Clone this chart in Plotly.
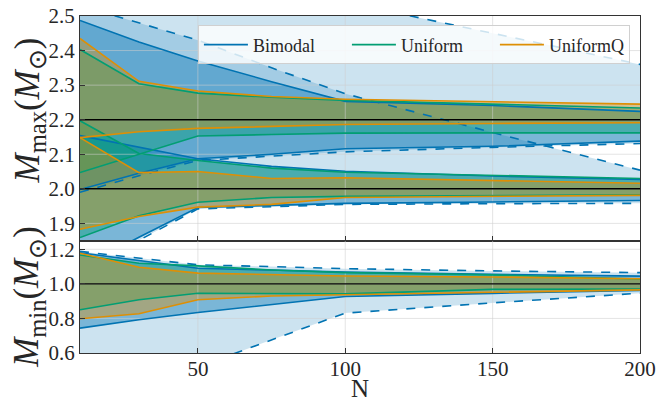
import plotly.graph_objects as go
from plotly.subplots import make_subplots

# ---------------- data ----------------
N = [10, 30, 50, 75, 100, 150, 200]

# M_max, injected 2.2
BIM_22_LO90 = [1.998, 2.045, 2.087, 2.100, 2.116, 2.123, 2.138]
BIM_22_HI90 = [2.487, 2.425, 2.370, 2.310, 2.253, 2.241, 2.224]
BIM_22_LO99 = [1.990, 2.038, 2.082, 2.095, 2.107, 2.120, 2.131]
BIM_22_HI99 = [2.900, 2.800, 2.700, 2.620, 2.540, 2.450, 2.360]
UNI_22_LO = [2.047, 2.100, 2.153, 2.157, 2.161, 2.162, 2.162]
UNI_22_HI = [2.403, 2.304, 2.277, 2.265, 2.256, 2.245, 2.234]
UNQ_22_LO = [2.148, 2.165, 2.175, 2.181, 2.186, 2.189, 2.191]
UNQ_22_HI = [2.435, 2.311, 2.283, 2.267, 2.259, 2.253, 2.245]

# M_max, injected 2.0
BIM_20_LO90 = [1.770, 1.860, 1.946, 1.952, 1.958, 1.962, 1.966]
BIM_20_HI90 = [2.154, 2.120, 2.087, 2.065, 2.051, 2.037, 2.027]
BIM_20_LO99 = [1.760, 1.852, 1.942, 1.948, 1.955, 1.957, 1.958]
BIM_20_HI99 = [2.530, 2.480, 2.430, 2.350, 2.275, 2.163, 2.054]
UNI_20_LO = [1.859, 1.922, 1.961, 1.975, 1.978, 1.981, 1.983]
UNI_20_HI = [2.197, 2.102, 2.082, 2.060, 2.048, 2.040, 2.030]
UNQ_20_LO = [1.883, 1.920, 1.947, 1.955, 1.975, 1.978, 1.981]
UNQ_20_HI = [2.148, 2.047, 2.050, 2.030, 2.032, 2.025, 2.016]

# M_min, injected 1.0
BIM_MIN_LO90 = [0.744, 0.792, 0.834, 0.880, 0.927, 0.945, 0.962]
BIM_MIN_HI90 = [1.180, 1.135, 1.090, 1.080, 1.068, 1.055, 1.045]
BIM_MIN_LO99 = [0.300, 0.400, 0.520, 0.677, 0.831, 0.890, 0.946]
BIM_MIN_HI99 = [1.188, 1.148, 1.110, 1.100, 1.088, 1.075, 1.065]
UNI_MIN_LO = [0.850, 0.908, 0.946, 0.944, 0.942, 0.968, 0.970]
UNI_MIN_HI = [1.167, 1.119, 1.104, 1.080, 1.065, 1.052, 1.028]
UNQ_MIN_LO = [0.798, 0.827, 0.908, 0.930, 0.937, 0.950, 0.965]
UNQ_MIN_HI = [1.177, 1.096, 1.062, 1.052, 1.046, 1.040, 1.030]

TRUTH_MAX = [2.2, 2.0]
TRUTH_MIN = [1.0]

MODELS = ["Bimodal", "Uniform", "UniformQ"]
X_TICKS = [50, 100, 150, 200]
YMAX_TICKS = [1.9, 2.0, 2.1, 2.2, 2.3, 2.4, 2.5]
YMIN_TICKS = [0.6, 0.8, 1.0, 1.2]
X_RANGE = [10, 200]
YMAX_RANGE = [1.85, 2.5]
YMIN_RANGE = [0.6, 1.25]

# ---------------- style ----------------
RGB = {"Bimodal": (1, 115, 178), "Uniform": (2, 158, 115), "UniformQ": (222, 143, 5)}
FONT = "Liberation Serif"
TXT = "#262626"
PAD = {"Bimodal": "\u00a0" * 6, "Uniform": "\u00a0" * 6, "UniformQ": ""}


def rgba(c, a):
    return "rgba(%d,%d,%d,%s)" % (c[0], c[1], c[2], a)


fig = make_subplots(rows=2, cols=1, row_heights=[2, 1], vertical_spacing=0,
                    shared_xaxes=True)


def add_fill(lo, hi, model, alpha, row):
    fig.add_trace(go.Scatter(x=N, y=lo, mode="lines", line=dict(width=0),
                             showlegend=False, hoverinfo="skip"), row=row, col=1)
    fig.add_trace(go.Scatter(x=N, y=hi, mode="lines", line=dict(width=0),
                             fill="tonexty", fillcolor=rgba(RGB[model], alpha),
                             showlegend=False, hoverinfo="skip"), row=row, col=1)


def add_line(y, model, row, dash="solid", legend=False):
    fig.add_trace(go.Scatter(x=N, y=y, mode="lines", name=model + PAD[model],
                             line=dict(color=rgba(RGB[model], 1), width=1.6, dash=dash),
                             showlegend=legend, legendgroup=model), row=row, col=1)


A_LIGHT, A_DARK = 0.2, 0.4

# fills (top panel)
add_fill(BIM_22_LO99, BIM_22_HI99, "Bimodal", A_LIGHT, 1)
add_fill(BIM_20_LO99, BIM_20_HI99, "Bimodal", A_LIGHT, 1)
add_fill(BIM_22_LO90, BIM_22_HI90, "Bimodal", A_DARK, 1)
add_fill(BIM_20_LO90, BIM_20_HI90, "Bimodal", A_DARK, 1)
add_fill(UNI_22_LO, UNI_22_HI, "Uniform", A_DARK, 1)
add_fill(UNI_20_LO, UNI_20_HI, "Uniform", A_DARK, 1)
add_fill(UNQ_22_LO, UNQ_22_HI, "UniformQ", A_DARK, 1)
add_fill(UNQ_20_LO, UNQ_20_HI, "UniformQ", A_DARK, 1)
# fills (bottom panel)
add_fill(BIM_MIN_LO99, BIM_MIN_HI99, "Bimodal", A_LIGHT, 2)
add_fill(BIM_MIN_LO90, BIM_MIN_HI90, "Bimodal", A_DARK, 2)
add_fill(UNI_MIN_LO, UNI_MIN_HI, "Uniform", A_DARK, 2)
add_fill(UNQ_MIN_LO, UNQ_MIN_HI, "UniformQ", A_DARK, 2)

# grid lines above fills, below lines
GRID = "rgba(205,205,205,0.55)"
for row, yt, yr in [(1, YMAX_TICKS, YMAX_RANGE), (2, YMIN_TICKS, YMIN_RANGE)]:
    gx, gy = [], []
    for t in X_TICKS[:-1]:
        gx += [t, t, None]
        gy += [yr[0], yr[1], None]
    for t in yt:
        if yr[0] < t < yr[1]:
            gx += [X_RANGE[0], X_RANGE[1], None]
            gy += [t, t, None]
    fig.add_trace(go.Scatter(x=gx, y=gy, mode="lines", line=dict(color=GRID, width=1),
                             showlegend=False, hoverinfo="skip"), row=row, col=1)

# boundary lines (top)
add_line(BIM_22_HI90, "Bimodal", 1, legend=True)
add_line(BIM_22_LO90, "Bimodal", 1)
add_line(BIM_20_HI90, "Bimodal", 1)
add_line(BIM_20_LO90, "Bimodal", 1)
add_line(BIM_22_HI99, "Bimodal", 1, dash="dash")
add_line(BIM_22_LO99, "Bimodal", 1, dash="dash")
add_line(BIM_20_HI99, "Bimodal", 1, dash="dash")
add_line(BIM_20_LO99, "Bimodal", 1, dash="dash")
add_line(UNI_22_HI, "Uniform", 1, legend=True)
add_line(UNI_22_LO, "Uniform", 1)
add_line(UNI_20_HI, "Uniform", 1)
add_line(UNI_20_LO, "Uniform", 1)
add_line(UNQ_22_HI, "UniformQ", 1, legend=True)
add_line(UNQ_22_LO, "UniformQ", 1)
add_line(UNQ_20_HI, "UniformQ", 1)
add_line(UNQ_20_LO, "UniformQ", 1)
# boundary lines (bottom)
add_line(BIM_MIN_HI90, "Bimodal", 2)
add_line(BIM_MIN_LO90, "Bimodal", 2)
add_line(BIM_MIN_HI99, "Bimodal", 2, dash="dash")
add_line(BIM_MIN_LO99, "Bimodal", 2, dash="dash")
add_line(UNI_MIN_HI, "Uniform", 2)
add_line(UNI_MIN_LO, "Uniform", 2)
add_line(UNQ_MIN_HI, "UniformQ", 2)
add_line(UNQ_MIN_LO, "UniformQ", 2)

# truth lines
for row, truths in [(1, TRUTH_MAX), (2, TRUTH_MIN)]:
    for t in truths:
        fig.add_trace(go.Scatter(x=X_RANGE, y=[t, t], mode="lines",
                                 line=dict(color="black", width=1.4),
                                 showlegend=False, hoverinfo="skip"), row=row, col=1)

axis_common = dict(showgrid=False, zeroline=False, showline=True, mirror=True,
                   linecolor="#333333", linewidth=1.2, ticks="inside", ticklen=5,
                   tickcolor="#333333", automargin=False,
                   tickfont=dict(family=FONT, size=21, color=TXT))

fig.update_xaxes(range=X_RANGE, tickvals=X_TICKS, **axis_common)
fig.update_xaxes(showticklabels=False, row=1, col=1)
fig.update_xaxes(ticklabelstandoff=-3, row=2, col=1)
fig.update_yaxes(range=YMAX_RANGE, tickvals=YMAX_TICKS, tickformat=".1f", row=1, col=1, **axis_common)
fig.update_yaxes(range=YMIN_RANGE, tickvals=YMIN_TICKS, tickformat=".1f", row=2, col=1, **axis_common)

# axis titles
fig.add_annotation(text="N", xref="x2 domain", yref="paper", x=0.5, y=-0.15,
                   xanchor="center", yanchor="bottom", showarrow=False,
                   font=dict(family=FONT, size=25, color=TXT))
fig.add_annotation(text="<i>M</i><sub>max</sub>(<i>M</i><sub>⊙</sub>)", textangle=-90,
                   xref="paper", yref="y domain", x=-0.091, y=0.58, xanchor="center",
                   yanchor="middle", showarrow=False,
                   font=dict(family=FONT, size=35, color=TXT))
fig.add_annotation(text="<i>M</i><sub>min</sub>(<i>M</i><sub>⊙</sub>)", textangle=-90,
                   xref="paper", yref="y2 domain", x=-0.091, y=0.5, xanchor="center",
                   yanchor="middle", showarrow=False,
                   font=dict(family=FONT, size=35, color=TXT))

fig.update_layout(
    width=670, height=403,
    margin=dict(l=80, r=30, t=16, b=50, autoexpand=False),
    plot_bgcolor="white", paper_bgcolor="white",
    legend=dict(orientation="h", x=0.982, xanchor="right", y=0.972, yanchor="top",
                bgcolor="rgba(255,255,255,0.8)", bordercolor="#d0d0d0", borderwidth=1,
                itemwidth=44,
                font=dict(family=FONT, size=18, color=TXT), traceorder="normal"),
)

fig.write_html("out.html")
